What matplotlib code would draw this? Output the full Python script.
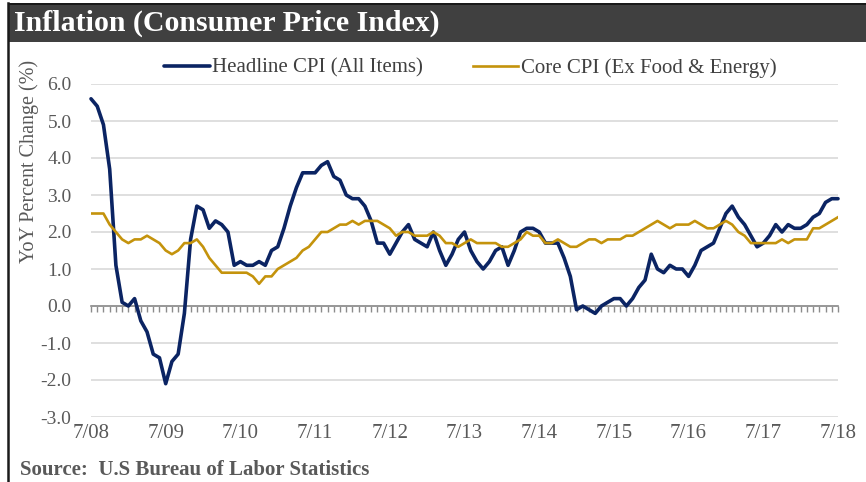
import numpy as np
import matplotlib.pyplot as plt
from matplotlib.patches import Rectangle
from matplotlib.lines import Line2D

plt.rcParams["font.family"] = ["Liberation Serif", "DejaVu Serif"]

# monthly YoY %, 7/2008 .. 7/2018
headline = [5.6, 5.4, 4.9, 3.7, 1.1, 0.1,
            0.0, 0.2, -0.4, -0.7, -1.3, -1.4, -2.1, -1.5, -1.3, -0.2, 1.8, 2.7,
            2.6, 2.1, 2.3, 2.2, 2.0, 1.1, 1.2, 1.1, 1.1, 1.2, 1.1, 1.5,
            1.6, 2.1, 2.7, 3.2, 3.6, 3.6, 3.6, 3.8, 3.9, 3.5, 3.4, 3.0,
            2.9, 2.9, 2.7, 2.3, 1.7, 1.7, 1.4, 1.7, 2.0, 2.2, 1.8, 1.7,
            1.6, 2.0, 1.5, 1.1, 1.4, 1.8, 2.0, 1.5, 1.2, 1.0, 1.2, 1.5,
            1.6, 1.1, 1.5, 2.0, 2.1, 2.1, 2.0, 1.7, 1.7, 1.7, 1.3, 0.8,
            -0.1, 0.0, -0.1, -0.2, 0.0, 0.1, 0.2, 0.2, 0.0, 0.2, 0.5, 0.7,
            1.4, 1.0, 0.9, 1.1, 1.0, 1.0, 0.8, 1.1, 1.5, 1.6, 1.7, 2.1,
            2.5, 2.7, 2.4, 2.2, 1.9, 1.6, 1.7, 1.9, 2.2, 2.0, 2.2, 2.1,
            2.1, 2.2, 2.4, 2.5, 2.8, 2.9, 2.9]
core = [2.5, 2.5, 2.5, 2.2, 2.0, 1.8,
        1.7, 1.8, 1.8, 1.9, 1.8, 1.7, 1.5, 1.4, 1.5, 1.7, 1.7, 1.8,
        1.6, 1.3, 1.1, 0.9, 0.9, 0.9, 0.9, 0.9, 0.8, 0.6, 0.8, 0.8,
        1.0, 1.1, 1.2, 1.3, 1.5, 1.6, 1.8, 2.0, 2.0, 2.1, 2.2, 2.2,
        2.3, 2.2, 2.3, 2.3, 2.3, 2.2, 2.1, 1.9, 2.0, 2.0, 1.9, 1.9,
        1.9, 2.0, 1.9, 1.7, 1.7, 1.6, 1.7, 1.8, 1.7, 1.7, 1.7, 1.7,
        1.6, 1.6, 1.7, 1.8, 2.0, 1.9, 1.9, 1.7, 1.7, 1.8, 1.7, 1.6,
        1.6, 1.7, 1.8, 1.8, 1.7, 1.8, 1.8, 1.8, 1.9, 1.9, 2.0, 2.1,
        2.2, 2.3, 2.2, 2.1, 2.2, 2.2, 2.2, 2.3, 2.2, 2.1, 2.1, 2.2,
        2.3, 2.2, 2.0, 1.9, 1.7, 1.7, 1.7, 1.7, 1.7, 1.8, 1.7, 1.8,
        1.8, 1.8, 2.1, 2.1, 2.2, 2.3, 2.4]
tick_labels = ["7/08", "7/09", "7/10", "7/11", "7/12", "7/13",
               "7/14", "7/15", "7/16", "7/17", "7/18"]

navy = "#0b2463"
gold = "#c4930c"
grey_txt = "#595959"

fig = plt.figure(figsize=(8.66, 4.82), dpi=100)
W, H = 866, 482

# title bar + frame
fig.patches.append(Rectangle((8 / W, 1 - 42 / H), 1, 38 / H, transform=fig.transFigure,
                             facecolor="#404040", edgecolor="none"))
fig.patches.append(Rectangle((8 / W, 1 - 5 / H), 1, 2.5 / H, transform=fig.transFigure,
                             facecolor="#1a1a1a", edgecolor="none"))
fig.lines.append(Line2D([8 / W, 8 / W], [0, 1 - 3 / H], transform=fig.transFigure,
                        color="#1a1a1a", lw=1.8))
fig.text(14 / W, 1 - 23 / H, "Inflation (Consumer Price Index)", color="white",
         fontsize=21.5, fontweight="bold", va="center", ha="left")

ax = fig.add_axes([91 / W, 1 - 417 / H, (838 - 91) / W, (417 - 84) / H])
x = np.arange(len(headline))
ax.plot(x, headline, color=navy, lw=2.6, label="Headline CPI (All Items)",
        solid_capstyle="round", clip_on=False, zorder=3)
ax.plot(x, core, color=gold, lw=1.9, label="Core CPI (Ex Food & Energy)", zorder=3)

ax.set_xlim(0, 120)
ax.set_ylim(-3, 6)
ax.set_yticks(np.arange(-3, 7, 1))
ax.set_yticklabels([f"{v:.1f}" for v in np.arange(-3, 7, 1)], fontsize=14, color=grey_txt)
ax.grid(axis="y", color="#d9d9d9", lw=1.2)
ax.tick_params(axis="y", length=0, pad=14)

for s in ["top", "right", "left"]:
    ax.spines[s].set_visible(False)
ax.spines["bottom"].set_position(("data", 0))
ax.spines["bottom"].set_color("#8c8c8c")
ax.spines["bottom"].set_linewidth(1.2)
ax.set_xticks(np.arange(0, 121, 1))
ax.tick_params(axis="x", length=4, color="#8c8c8c", width=1, labelbottom=False)

sec = ax.secondary_xaxis(-0.01)
sec.set_xticks(np.arange(0, 121, 12))
sec.set_xticklabels(tick_labels, fontsize=15, color=grey_txt)
sec.tick_params(length=0, pad=3)
sec.spines["bottom"].set_visible(False)

ax.set_ylabel("YoY Percent Change (%)", fontsize=14.5, color=grey_txt)
ax.yaxis.set_label_coords(-0.070, 0.766)

leg = fig.legend(loc="center", bbox_to_anchor=(470 / W, 1 - 68 / H), ncol=2,
                 frameon=False, fontsize=15, handlelength=2.2, handletextpad=0.1,
                 columnspacing=2.4)
for t in leg.get_texts():
    t.set_color("#404040")

fig.text(20 / W, 1 - 470 / H, "Source:  U.S Bureau of Labor Statistics", fontsize=15,
         fontweight="bold", color="#595959", va="center", ha="left")

fig.savefig("out.png", dpi=100)
